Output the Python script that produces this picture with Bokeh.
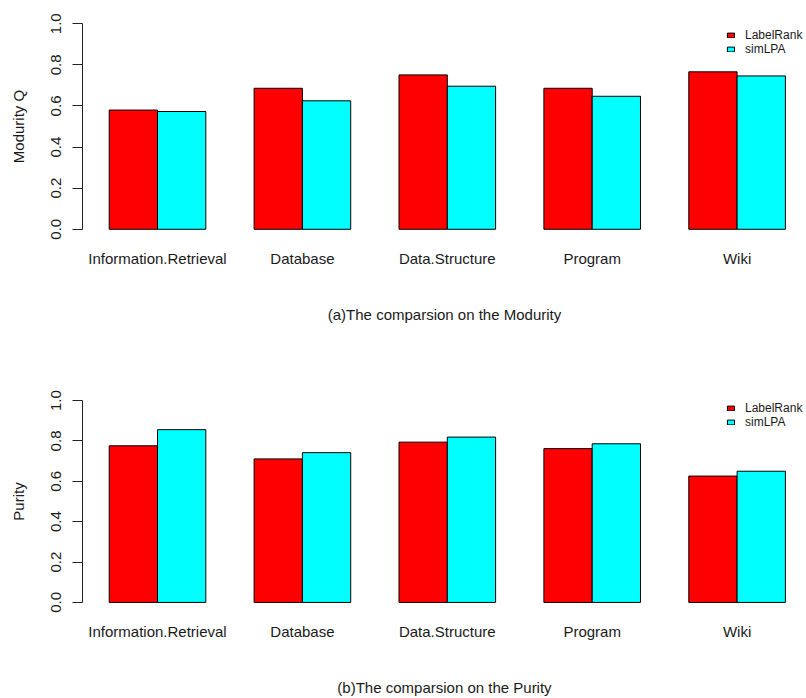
from bokeh.plotting import figure
from bokeh.models import ColumnDataSource, Range1d, FixedTicker, Legend, LegendItem
from bokeh.layouts import column
from bokeh.embed import file_html
from bokeh.resources import INLINE

# ---- data ----
categories = ["Information.Retrieval", "Database", "Data.Structure", "Program", "Wiki"]
series_names = ["LabelRank", "simLPA"]
series_colors = ["#FF0000", "#00FFFF"]
modularity_labelrank = [0.580, 0.686, 0.751, 0.686, 0.766]
modularity_simlpa = [0.573, 0.625, 0.696, 0.647, 0.746]
purity_labelrank = [0.776, 0.711, 0.794, 0.762, 0.626]
purity_simlpa = [0.856, 0.742, 0.819, 0.786, 0.650]
y_ticks = [0.0, 0.2, 0.4, 0.6, 0.8, 1.0]
y_tick_labels = ["0.0", "0.2", "0.4", "0.6", "0.8", "1.0"]

FONT = "Liberation Sans"
TXT = "#1a1a1a"


def make_chart(vals_a, vals_b, ylabel, title, height, border_bottom):
    n = len(categories)
    # R barplot(beside=TRUE) layout: each group = 2 bars of width 1, 1 unit gap
    x_a = [1.5 + 3 * i for i in range(n)]
    x_b = [2.5 + 3 * i for i in range(n)]
    centers = [2.0 + 3 * i for i in range(n)]
    src = ColumnDataSource(dict(cat=categories, xa=x_a, xb=x_b, a=vals_a, b=vals_b))

    p = figure(width=806, height=height, output_backend="svg", toolbar_location=None,
               x_range=Range1d(0.447, 15.437), y_range=Range1d(-0.04, 1.04),
               min_border_left=82, min_border_right=0, min_border_top=15,
               min_border_bottom=border_bottom)
    p.outline_line_color = None
    p.xgrid.visible = False
    p.ygrid.visible = False

    r1 = p.vbar(x="xa", top="a", bottom=0, width=1.0, source=src,
                fill_color=series_colors[0], line_color="black", line_width=1)
    r2 = p.vbar(x="xb", top="b", bottom=0, width=1.0, source=src,
                fill_color=series_colors[1], line_color="black", line_width=1)

    # y axis
    ya = p.yaxis[0]
    ya.ticker = FixedTicker(ticks=y_ticks)
    ya.major_label_overrides = {t: l for t, l in zip(y_ticks, y_tick_labels)}
    ya.bounds = (0, 1)
    ya.major_label_orientation = "vertical"
    ya.major_tick_out = 10
    ya.major_tick_in = 0
    ya.minor_tick_line_color = None
    ya.major_label_standoff = 11
    ya.axis_line_color = "#222222"
    ya.major_tick_line_color = "#222222"
    ya.major_label_text_font = FONT
    ya.major_label_text_font_size = "15px"
    ya.major_label_text_color = TXT
    ya.axis_label = ylabel
    ya.axis_label_text_font = FONT
    ya.axis_label_text_font_size = "15px"
    ya.axis_label_text_font_style = "normal"
    ya.axis_label_text_color = TXT
    ya.axis_label_standoff = 22

    # x axis: category names, caption as the axis title
    xa = p.xaxis[0]
    xa.ticker = FixedTicker(ticks=centers)
    xa.major_label_overrides = {c: name for c, name in zip(centers, categories)}
    xa.axis_line_color = None
    xa.major_tick_line_color = None
    xa.minor_tick_line_color = None
    xa.major_tick_out = 0
    xa.major_tick_in = 0
    xa.major_label_standoff = 12
    xa.major_label_text_font = FONT
    xa.major_label_text_font_size = "15px"
    xa.major_label_text_color = TXT
    xa.axis_label = title
    xa.axis_label_text_font = FONT
    xa.axis_label_text_font_size = "15px"
    xa.axis_label_text_font_style = "normal"
    xa.axis_label_text_color = TXT
    xa.axis_label_standoff = 36

    # one legend per row so the rows sit as tightly as in the reference
    for k, (r, y) in enumerate([(r1, 195), (r2, 181)]):
        legend = Legend(items=[LegendItem(label=series_names[k], renderers=[r])],
                        location=(644, y), orientation="vertical",
                        glyph_width=9, glyph_height=6, label_standoff=10, label_height=12,
                        label_text_font=FONT, label_text_font_size="12px",
                        label_text_color=TXT,
                        spacing=0, padding=0, margin=0,
                        border_line_color=None, background_fill_alpha=0)
        p.add_layout(legend)
    return p


p1 = make_chart(modularity_labelrank, modularity_simlpa, "Modurity Q",
                "(a)The comparsion on the Modurity", 377, 140)
p2 = make_chart(purity_labelrank, purity_simlpa, "Purity",
                "(b)The comparsion on the Purity", 321, 84)

p = column(p1, p2, spacing=0)
open("out.html", "w").write(file_html(p, INLINE))
